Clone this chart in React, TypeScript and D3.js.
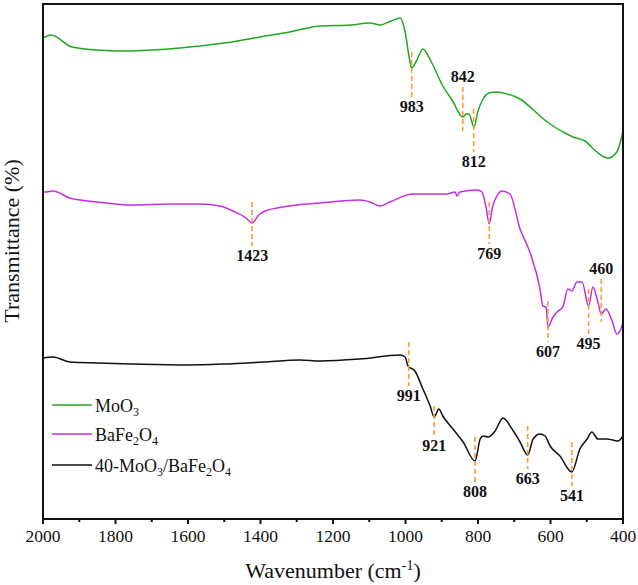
import React from 'react';
import * as d3 from 'd3';

// FTIR spectra, transmittance in arbitrary (offset) units
const moo3Wn = [2000, 1978, 1920, 1850, 1779, 1700, 1622, 1500, 1401, 1320, 1236, 1150, 1098, 1070, 1040, 1015, 1001, 990, 983, 970, 952, 930, 897, 870, 842, 833, 825, 811, 800, 786, 770, 748, 720, 684, 650, 629, 593, 560, 538, 505, 472, 441, 417, 400];
const moo3T = [481, 484, 472, 469, 468, 469, 471, 476, 482, 487, 493, 494, 496, 494, 498, 501, 487, 462, 451, 458, 470, 458, 433, 418, 402, 405, 405, 392, 408, 420, 426, 427, 425, 420, 410, 403, 393, 386, 382, 378, 367, 361, 367, 388];

const bfoWn = [2000, 1994, 1972, 1926, 1850, 1752, 1650, 1567, 1512, 1476, 1440, 1423, 1405, 1393, 1338, 1272, 1236, 1126, 1098, 1070, 1043, 979, 886, 863, 858, 850, 803, 789, 778, 769, 760, 748, 734, 712, 684, 657, 629, 621, 612, 607, 593, 582, 566, 552, 541, 527, 513, 495, 483, 470, 460, 447, 430, 417, 403, 400];
const bfoT = [327, 327, 328, 321, 317, 314, 315, 315, 313, 308, 301, 296, 304, 307, 312, 315, 316, 319, 317, 313, 317, 325, 325, 327, 323, 327, 329, 327, 312, 295, 312, 323, 328, 325, 290, 267, 230, 213, 212, 192, 202, 207, 212, 230, 228, 237, 237, 213, 232, 218, 205, 210, 198, 185, 193, 197];

const compWn = [2000, 1972, 1926, 1850, 1752, 1603, 1500, 1393, 1291, 1236, 1126, 1015, 1001, 993, 974, 952, 932, 921, 908, 897, 869, 841, 808, 794, 786, 772, 753, 731, 706, 684, 663, 648, 629, 615, 601, 574, 541, 519, 499, 486, 469, 444, 428, 414, 400];
const compT = [161, 162, 157, 156, 155, 154, 155, 157, 159, 158, 160, 164, 162, 153, 148, 130, 113, 102, 110, 103, 90, 77, 58, 80, 83, 82, 88, 101, 90, 77, 64, 80, 85, 83, 73, 63, 47, 70, 80, 87, 80, 80, 79, 78, 83];

const seriesColors = ['#1fa81f', '#c030e0', '#111111'];

// peak markers: wavenumber, dashed segment top/bottom (a.u.), label side
const peakWn = [983, 842, 812, 1423, 769, 607, 495, 460, 991, 921, 808, 663, 541];
const peakTop = [467, 432, 410, 317, 317, 218, 230, 240, 177, 113, 82, 93, 77];
const peakBottom = [422, 388, 367, 273, 275, 177, 185, 197, 133, 83, 37, 50, 33];
const peakAbove = [false, true, false, false, false, false, false, true, false, false, false, false, false];

const xTicks = [2000, 1800, 1600, 1400, 1200, 1000, 800, 600, 400];
const xMinorTicks = [1900, 1700, 1500, 1300, 1100, 900, 700, 500];

const W = 638;
const H = 585;
const margin = { top: 4, right: 15, bottom: 66, left: 43 };
const FONT = 'Liberation Serif, Times New Roman, Times, serif';

const x = d3.scaleLinear([2000, 400], [margin.left, W - margin.right]);
const y = d3.scaleLinear([0, 515], [H - margin.bottom, margin.top]);

const line = d3.line<number[]>()
  .x(d => x(d[0]))
  .y(d => y(d[1]))
  .curve(d3.curveMonotoneX);

const series = [
  moo3Wn.map((w, i) => [w, moo3T[i]]),
  bfoWn.map((w, i) => [w, bfoT[i]]),
  compWn.map((w, i) => [w, compT[i]]),
];

const Sub = ({ children }: { children: string }) => (
  <tspan fontSize={12} dy={4}>{children}</tspan>
);
const Up = ({ children }: { children: string }) => (
  <tspan dy={-4}>{children}</tspan>
);

const legendLabels = [
  <><tspan>MoO</tspan><Sub>3</Sub></>,
  <><tspan>BaFe</tspan><Sub>2</Sub><Up>O</Up><Sub>4</Sub></>,
  <><tspan>40-MoO</tspan><Sub>3</Sub><Up>/BaFe</Up><Sub>2</Sub><Up>O</Up><Sub>4</Sub></>,
];
const legendY = [405, 434, 465];

const App = () => {
  const bottom = H - margin.bottom;
  return (
    <svg width={W} height={H} style={{ position: 'absolute', left: 0, top: 0 }}>
      <g fontFamily={FONT} fill="#111">
        {series.map((s, i) => (
          <path key={i} d={line(s) ?? ''} fill="none" stroke={seriesColors[i]} strokeWidth={1.5} strokeLinejoin="round" />
        ))}

        {peakWn.map((w, i) => {
          const px = x(w);
          const yTop = y(peakTop[i]);
          const yBot = y(peakBottom[i]);
          return (
            <g key={'p' + i}>
              <line x1={px} x2={px} y1={yTop} y2={yBot} stroke="#ff9a2e" strokeWidth={1.6} strokeDasharray="5,3" />
              <text
                x={px}
                y={peakAbove[i] ? yTop - 5 : yBot + 15}
                textAnchor="middle"
                fontWeight="bold"
                fontSize={16}
                fontFamily={FONT}
              >
                {w}
              </text>
            </g>
          );
        })}

        <rect
          x={margin.left}
          y={margin.top}
          width={W - margin.left - margin.right}
          height={H - margin.top - margin.bottom}
          fill="none"
          stroke="#111"
          strokeWidth={2}
        />

        {xTicks.map(t => (
          <g key={'t' + t} transform={`translate(${x(t)},${bottom})`}>
            <line y2={5} stroke="#111" strokeWidth={2} />
            <text y={23} textAnchor="middle" fontSize={17.5} fontFamily={FONT}>{t}</text>
          </g>
        ))}
        {xMinorTicks.map(t => (
          <line key={'m' + t} x1={x(t)} x2={x(t)} y1={bottom} y2={bottom + 3} stroke="#111" strokeWidth={2} />
        ))}

        <text
          x={(margin.left + W - margin.right) / 2}
          y={578}
          textAnchor="middle"
          fontSize={22}
          fontFamily={FONT}
        >
          <tspan>Wavenumber (cm</tspan>
          <tspan fontSize={14} dy={-8}>-1</tspan>
          <tspan dy={8}>)</tspan>
        </text>

        <text
          transform="translate(19,241) rotate(-90)"
          textAnchor="middle"
          fontSize={22}
          fontFamily={FONT}
        >
          Transmittance (%)
        </text>

        {legendLabels.map((lab, i) => (
          <g key={'l' + i}>
            <line x1={52} x2={92} y1={legendY[i]} y2={legendY[i]} stroke={seriesColors[i]} strokeWidth={1.5} />
            <text x={95} y={legendY[i] + 7} fontSize={18} fontFamily={FONT}>
              {lab}
            </text>
          </g>
        ))}
      </g>
    </svg>
  );
};

export default App;
